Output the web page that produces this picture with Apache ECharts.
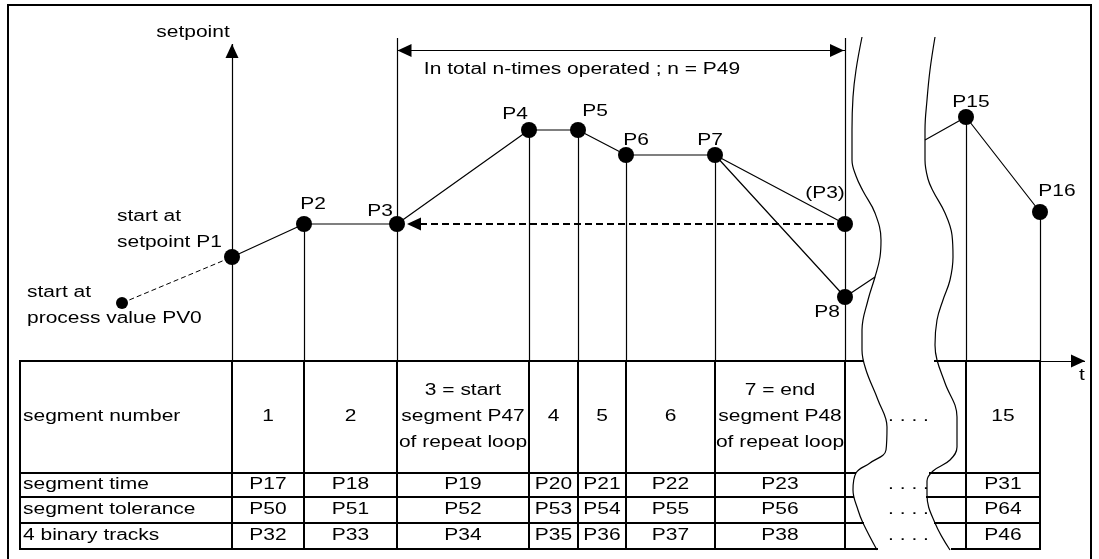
<!DOCTYPE html>
<html lang="en">
<head>
  <meta charset="utf-8">
</head>
<body style="margin: 0; overflow: hidden; background: #fff">
  <div style="position: relative; width: 1099px; height: 559px">
    <div id="container" style="width: 1099px; height: 559px"></div>
    <!-- outer frame of the drawing (open at the bottom) -->
    <div style="position: absolute; left: 7px; top: 4px; width: 1081px; height: 560px; border: 2px solid #000; border-bottom: none; pointer-events: none"></div>
  </div>
  <script type="text/javascript" src="https://cdn.jsdelivr.net/npm/echarts@6.0.0/dist/echarts.min.js"></script>
  <script type="text/javascript">

    // diagram units: t runs to the right, setpoint runs upward (about 1 unit per px)
    const segTimes = [232, 304, 397, 529, 578, 626, 715, 845, 966, 1040];

    const pointNames  = ['P1', 'P2', 'P3', 'P4', 'P5', 'P6', 'P7', '(P3)', 'P8', 'P15', 'P16'];
    const pointTimes  = [232, 304, 397, 529, 578, 626, 715, 845, 845, 966, 1040];
    const pointLevels = [302, 335, 335, 429, 429, 404, 404, 335, 262, 442, 347];

    const pv0 = [122, 256];            // start at process value
    const returnTip = [407, 335];      // dashed jump back to P3

    const loopStart = 397, loopEnd = 845, loopTop = 521, loopArrowLevel = 508.5;
    const axisTop = 515;               // tip of the setpoint arrow
    const tAxisLevel = 198, tAxisEnd = 1085;

    // torn-paper breaks between segment 7 and 15
    const breakLeft = [[862, 522], [856, 489], [853, 462], [852, 429], [852, 399], [856, 383],
      [863, 368], [875, 346], [881, 319], [880, 302], [875, 282], [868, 259], [862, 229],
      [862, 209], [866, 189], [878, 159], [887, 132], [886, 109], [870, 96], [856, 86],
      [853, 69], [858, 49], [863, 36], [877, 9]];
    const breakRight = [[935, 522], [930, 489], [927, 459], [925, 429], [925, 399], [928, 380],
      [933, 368], [945, 346], [952, 324], [953, 302], [950, 279], [943, 259], [937, 239],
      [935, 214], [937, 199], [945, 176], [957, 142], [957, 112], [950, 99], [933, 88],
      [927, 78], [927, 64], [935, 36], [950, 9]];
    const joinToBreak = [875, 282];    // P8 runs into the left break
    const joinFromBreak = [925, 419];  // line into P15 comes out of the right break

    // table
    const tableLeft = 20;
    const tableRules = [198, 86, 62, 36, 10];
    const ruleBreaks = [[862, 935], [855, 930], [853, 927], [863, 935], [877, 952]];
    const breakColumn = 7;             // the 845..966 column is the torn gap
    const rowLabels = ['segment number', 'segment time', 'segment tolerance', '4 binary tracks'];
    const segmentNumbers = ['1', '2', '3 = start\nsegment P47\nof repeat loop', '4', '5', '6',
      '7 = end\nsegment P48\nof repeat loop', '15'];
    const segmentTime      = ['P17', 'P18', 'P19', 'P20', 'P21', 'P22', 'P23', 'P31'];
    const segmentTolerance = ['P50', 'P51', 'P52', 'P53', 'P54', 'P55', 'P56', 'P64'];
    const binaryTracks     = ['P32', 'P33', 'P34', 'P35', 'P36', 'P37', 'P38', 'P46'];

    // label placement for the points, in px (style only)
    const labelOffsets = {
      'P2': [9, -19], 'P3': [-17, -12], 'P4': [-14, -15], 'P5': [17, -18], 'P6': [10, -14],
      'P7': [-5, -14], '(P3)': [-20, -30], 'P8': [-18, 16], 'P15': [5, -14], 'P16': [17, -20]
    };

    const FONT = '16px "Liberation Sans", Arial, sans-serif';
    const STRETCH = 1.31;   // the source lettering is drawn wide
    const ARROW_LEN = 14, ARROW_W = 13;

    var dom = document.getElementById('container');
    var myChart = echarts.init(dom, null, { renderer: 'canvas' });

    const pts = pointTimes.map((t, i) => [t, pointLevels[i]]);
    const last = segTimes.length - 1;

    // ---- line segments
    const thick = [];
    tableRules.forEach(function (lv, i) {
      thick.push([[tableLeft, lv], [ruleBreaks[i][0], lv]]);
      thick.push([[ruleBreaks[i][1], lv], [segTimes[last], lv]]);
    });
    [tableLeft].concat(segTimes).forEach(function (t) {
      thick.push([[t, tableRules[0]], [t, tableRules[tableRules.length - 1]]]);
    });

    const thin = [];
    thin.push([[segTimes[0], tAxisLevel], [segTimes[0], axisTop]]);
    segTimes.slice(1).forEach(function (t) {
      let top = Math.max.apply(null, pts.filter(p => p[0] === t).map(p => p[1]));
      if (t === loopStart || t === loopEnd) top = loopTop;
      thin.push([[t, tAxisLevel], [t, top]]);
    });
    thin.push([[loopStart, loopArrowLevel], [loopEnd, loopArrowLevel]]);
    thin.push([[segTimes[last], tAxisLevel], [tAxisEnd, tAxisLevel]]);

    // ---- arrowheads [x, level, direction in degrees]
    const arrows = [
      [segTimes[0], axisTop, 90],
      [loopStart + 0.5, loopArrowLevel, 180],
      [loopEnd - 1, loopArrowLevel, 0],
      [returnTip[0], returnTip[1], 180],
      [tAxisEnd, tAxisLevel, 0]
    ];

    // ---- texts
    const texts = [];
    function addText(str, x, y, align, dx, dy) {
      texts.push({ value: [x, y], str: str, align: align || 'center', dx: dx || 0, dy: dy || 0 });
    }
    addText('setpoint', 193, 526);
    addText('t', 1082, 183);
    addText('In total n-times operated ; n = P49', 582, 489);
    addText('start at\nsetpoint P1', 117, 329, 'left');
    addText('start at\nprocess value PV0', 27, 253.5, 'left');
    pointNames.forEach(function (n, i) {
      const off = labelOffsets[n];
      if (off) addText(n, pointTimes[i], pointLevels[i], 'center', off[0], off[1]);
    });
    const rowCenters = tableRules.slice(0, -1).map((lv, i) => (lv + tableRules[i + 1]) / 2);
    rowLabels.forEach((s, r) => addText(s, tableLeft + 3, rowCenters[r], 'left'));
    const cells = [];
    for (let i = 0; i < last; i++) {
      if (i !== breakColumn) cells.push((segTimes[i] + segTimes[i + 1]) / 2);
    }
    [segmentNumbers, segmentTime, segmentTolerance, binaryTracks].forEach(function (row, r) {
      row.forEach((s, c) => addText(s, cells[c], rowCenters[r]));
      addText('. . . .', (segTimes[breakColumn] + segTimes[breakColumn + 1]) / 2 + 3, rowCenters[r]);
    });

    function renderText(params, api) {
      const t = texts[params.dataIndex];
      const p = api.coord([api.value(0), api.value(1)]);
      return {
        type: 'text',
        x: p[0] + t.dx,
        y: p[1] + t.dy,
        scaleX: STRETCH,
        style: {
          text: t.str,
          font: FONT,
          fill: '#000',
          textAlign: t.align,
          textVerticalAlign: 'middle',
          lineHeight: 26
        }
      };
    }

    function renderArrow(params, api) {
      const tip = api.coord([api.value(0), api.value(1)]);
      const a = api.value(2) * Math.PI / 180;
      const dx = Math.cos(a), dy = -Math.sin(a);
      const bx = tip[0] - dx * ARROW_LEN, by = tip[1] - dy * ARROW_LEN;
      const hx = -dy * ARROW_W / 2, hy = dx * ARROW_W / 2;
      return {
        type: 'polygon',
        shape: { points: [[tip[0], tip[1]], [bx + hx, by + hy], [bx - hx, by - hy]] },
        style: { fill: '#000' }
      };
    }

    const solid = { color: '#000', width: 1.2 };

    var option = {
      backgroundColor: '#fff',
      animation: false,
      grid: { left: 0, right: 0, top: 0, bottom: 0 },
      xAxis: { type: 'value', min: 0, max: 1099, show: false },
      yAxis: { type: 'value', min: 0, max: 559, show: false },
      series: [
        {
          name: 'table',
          type: 'lines',
          coordinateSystem: 'cartesian2d',
          silent: true,
          lineStyle: { color: '#000', width: 2, opacity: 1, cap: 'square' },
          data: thick.map(c => ({ coords: c }))
        },
        {
          name: 'guides',
          type: 'lines',
          coordinateSystem: 'cartesian2d',
          silent: true,
          lineStyle: { color: '#000', width: 1.2, opacity: 1 },
          data: thin.map(c => ({ coords: c }))
        },
        {
          name: 'program',
          type: 'line',
          silent: true,
          showSymbol: false,
          lineStyle: solid,
          data: pts.slice(0, 8)
        },
        {
          name: 'to P8',
          type: 'line',
          silent: true,
          showSymbol: false,
          lineStyle: solid,
          data: [pts[6], pts[8], joinToBreak]
        },
        {
          name: 'to P16',
          type: 'line',
          silent: true,
          showSymbol: false,
          lineStyle: solid,
          data: [joinFromBreak, pts[9], pts[10]]
        },
        {
          name: 'from PV0',
          type: 'line',
          silent: true,
          showSymbol: false,
          lineStyle: { color: '#000', width: 1, type: [5, 3] },
          data: [pv0, pts[0]]
        },
        {
          name: 'repeat',
          type: 'line',
          silent: true,
          showSymbol: false,
          lineStyle: { color: '#000', width: 2, type: [7, 4] },
          data: [pts[7], returnTip]
        },
        {
          name: 'break left',
          type: 'line',
          silent: true,
          showSymbol: false,
          smooth: 0.4,
          lineStyle: solid,
          data: breakLeft
        },
        {
          name: 'break right',
          type: 'line',
          silent: true,
          showSymbol: false,
          smooth: 0.4,
          lineStyle: solid,
          data: breakRight
        },
        {
          name: 'points',
          type: 'scatter',
          silent: true,
          symbol: 'circle',
          symbolSize: 16,
          itemStyle: { color: '#000', opacity: 1 },
          data: pts
        },
        {
          name: 'PV0',
          type: 'scatter',
          silent: true,
          symbol: 'circle',
          symbolSize: 12,
          itemStyle: { color: '#000', opacity: 1 },
          data: [pv0]
        },
        {
          name: 'arrows',
          type: 'custom',
          silent: true,
          renderItem: renderArrow,
          data: arrows
        },
        {
          name: 'texts',
          type: 'custom',
          silent: true,
          clip: false,
          renderItem: renderText,
          data: texts.map(t => t.value)
        }
      ]
    };

    myChart.setOption(option);
    window.addEventListener('resize', myChart.resize);
  </script>
</body>
</html>
